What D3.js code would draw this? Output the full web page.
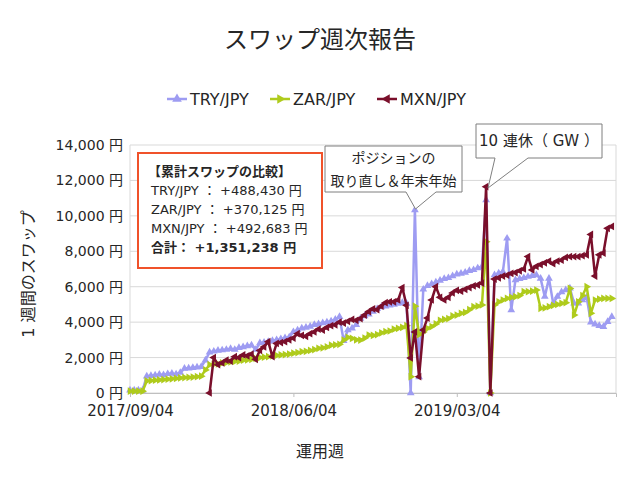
<!DOCTYPE html>
<html><head><meta charset="utf-8">
<script src="https://cdn.jsdelivr.net/npm/d3@7"></script>
<style>
html,body{margin:0;padding:0;background:#fff;}
text{font-family:"DejaVu Sans","Noto Sans CJK JP",sans-serif;fill:#262626;}
</style></head>
<body><svg id="c" width="640" height="480"></svg>
<script>
const seriesNames = ["TRY/JPY","ZAR/JPY","MXN/JPY"];
const xTickLabels = ["2017/09/04","2018/06/04","2019/03/04"];
const xTickWeeks = [0,39,78];
const yTicks = [0,2000,4000,6000,8000,10000,12000,14000];
const tryValues = [150,150,160,150,950,980,1000,1050,1020,1080,1100,1060,1150,1380,1400,1420,1450,1480,1850,2300,
2350,2400,2420,2450,2500,2450,2550,2600,2650,2700,2450,2820,2850,2900,2950,3000,3050,3100,3150,3450,
3550,3650,3700,3750,3850,3900,3950,4000,4050,4150,4300,2950,3550,3650,3850,4200,4350,4450,4600,4750,
4850,4900,4950,5000,5050,5100,5050,0,10330,900,5850,6050,6150,6250,6350,6450,6500,6600,6700,6750,
6800,6900,6950,7050,7130,10900,0,6660,6760,6850,8730,4690,6380,6450,6500,6570,6620,6660,6470,5440,
6470,5060,5440,5700,5810,5910,5060,5060,5250,5400,4000,3880,3800,3740,4020,4310];
const zarValues = [100,100,110,100,680,700,720,740,760,780,800,820,850,870,880,900,920,950,1300,1600,
1620,1650,1700,1720,1750,1780,1800,1850,1870,1900,1950,2000,2020,2050,2100,2120,2150,2170,2200,2250,
2280,2330,2350,2400,2450,2520,2550,2600,2700,2720,2750,2990,3140,3080,3000,2990,3100,3270,3250,3300,
3400,3460,3500,3600,3650,3700,3800,920,4900,3300,3450,3650,3750,3900,4100,4150,4200,4350,4400,4500,
4550,4700,4870,4900,4970,8540,0,4970,5150,5250,5340,5400,5440,5500,5720,5720,5750,5810,4780,4800,
4870,4950,5000,5060,5100,5900,4400,5150,5500,6000,4500,5250,5300,5340,5340,5340];
const mxnValues = [null,null,null,null,null,null,null,null,null,null,null,null,null,null,null,null,null,null,null,0,
2000,1600,1700,1850,1800,2050,2000,2150,2100,2200,1900,2400,2600,2900,2050,2800,2850,2900,3000,3100,
3350,3250,3200,3350,3450,3600,3550,3700,3800,3850,4000,3950,4050,4150,4100,4200,4400,4600,4750,4700,
4900,5100,5150,5150,5250,5950,4950,1980,3450,920,3560,4230,5250,6000,5400,5250,5400,5650,5800,5750,
5850,5950,6050,6100,6200,11650,0,6430,6500,6600,6650,6750,6800,6900,7000,7700,6950,7150,7250,7350,
7450,7300,7450,7500,7650,7700,7700,7700,7750,7800,8950,6600,7800,7900,9300,9400];
const boxLines = ["【累計スワップの比較】","TRY/JPY ： +488,430 円","ZAR/JPY ： +370,125 円","MXN/JPY ： +492,683 円","合計： +1,351,238 円"];
const callout1 = ["ポジションの","取り直し＆年末年始"];
const callout2 = ["10 連休（ GW ）"];

const colors = ["#9e9cf2","#afcb1c","#7a0f2b"];
const symbols = [{t:d3.symbolTriangle,r:0},{t:d3.symbolTriangle,r:90},{t:d3.symbolTriangle,r:-90}];
const series = [tryValues, zarValues, mxnValues];

const svg = d3.select("#c");
const L=130,R=616,T=145,B=393;
const x = d3.scaleLinear().domain([0,116]).range([L,R]);
const y = d3.scaleLinear().domain([0,14000]).range([B,T]);

// title
svg.append("text").attr("x",320).attr("y",48).attr("text-anchor","middle")
  .style("font-family","'Noto Sans CJK JP'").style("font-size","24px").text("スワップ週次報告");

// grid
svg.append("g").selectAll("line").data(yTicks).join("line")
  .attr("x1",L).attr("x2",R).attr("y1",d=>y(d)).attr("y2",d=>y(d))
  .attr("stroke","#d9d9d9").attr("stroke-width",1);
svg.append("line").attr("x1",R).attr("x2",R).attr("y1",T).attr("y2",B).attr("stroke","#d9d9d9");
svg.append("line").attr("x1",L).attr("x2",L).attr("y1",T).attr("y2",B).attr("stroke","#d9d9d9");

// y axis
const ya = svg.append("g").attr("transform",`translate(${L-4},0)`)
  .call(d3.axisLeft(y).tickValues(yTicks).tickSize(0).tickFormat(d=>d3.format(",")(d)+" 円"));
ya.select(".domain").remove();
ya.selectAll("text").style("font-size","14px").attr("fill","#262626");

// x axis
const xa = svg.append("g").attr("transform",`translate(0,${B})`)
  .call(d3.axisBottom(x).tickValues(xTickWeeks).tickSize(4).tickPadding(8).tickFormat((d,i)=>xTickLabels[i]));
xa.select(".domain").attr("stroke","#bfbfbf");
xa.selectAll("line").attr("stroke","#bfbfbf");
xa.selectAll("text").style("font-size","15px").attr("fill","#262626");

// axis titles
svg.append("text").attr("x",320).attr("y",457).attr("text-anchor","middle")
  .style("font-size","16px").text("運用週");
svg.append("text").attr("transform","translate(34,274) rotate(-90)").attr("text-anchor","middle")
  .style("font-size","16px").text("1 週間のスワップ");

// series
const line = d3.line().defined(d=>d.v!==null).x(d=>x(d.i)).y(d=>y(d.v));
series.forEach((vals,k)=>{
  const pts = vals.map((v,i)=>({i,v}));
  const g = svg.append("g");
  g.append("path").datum(pts).attr("d",line).attr("fill","none")
    .attr("stroke",colors[k]).attr("stroke-width",2.5).attr("stroke-linejoin","round");
  const sym = d3.symbol().type(symbols[k].t).size(26);
  g.selectAll("path.m").data(pts.filter(d=>d.v!==null)).join("path").attr("class","m")
    .attr("d",sym).attr("fill",colors[k])
    .attr("transform",d=>`translate(${x(d.i)},${y(d.v)}) rotate(${symbols[k].r})`);
});

// legend
const legX=[167,270,377];
seriesNames.forEach((n,k)=>{
  const g = svg.append("g").attr("transform",`translate(${legX[k]},99)`);
  g.append("line").attr("x1",0).attr("x2",20).attr("stroke",colors[k]).attr("stroke-width",2.5);
  g.append("path").attr("d",d3.symbol().type(symbols[k].t).size(40)).attr("fill",colors[k])
    .attr("transform",`translate(10,0) rotate(${symbols[k].r})`);
  g.append("text").attr("x",23).attr("y",6).style("font-size","16px").text(n);
});

// info box
svg.append("rect").attr("x",138).attr("y",153).attr("width",184).attr("height",115)
  .attr("fill","#fff").attr("stroke","#f0522a").attr("stroke-width",2);
boxLines.forEach((t,i)=>{
  svg.append("text").attr("x",i===0?148:151).attr("y",176+i*19)
    .style("font-size","13px").style("font-weight",(i===0||i===4)?"bold":"normal").text(t);
});

// callouts
function callout(x0,y0,w,h,b1,b2,tx,ty,lines,fs,lh){
  const p = `M${x0},${y0}H${x0+w}V${y0+h}H${b2}L${tx},${ty}L${b1},${y0+h}H${x0}Z`;
  svg.append("path").attr("d",p).attr("fill","#fff").attr("stroke","#7f7f7f").attr("stroke-width",1);
  lines.forEach((t,i)=>{
    svg.append("text").attr("x",x0+w/2).attr("y",y0+h/2+fs*0.36+(i-(lines.length-1)/2)*lh)
      .attr("text-anchor","middle").style("font-size",fs+"px").text(t);
  });
}
callout(325,146,137,46,406,436,415.5,209,callout1,14,23);
callout(476,124,126,34,495,528,488,188,callout2,15,0);
</script></body></html>
